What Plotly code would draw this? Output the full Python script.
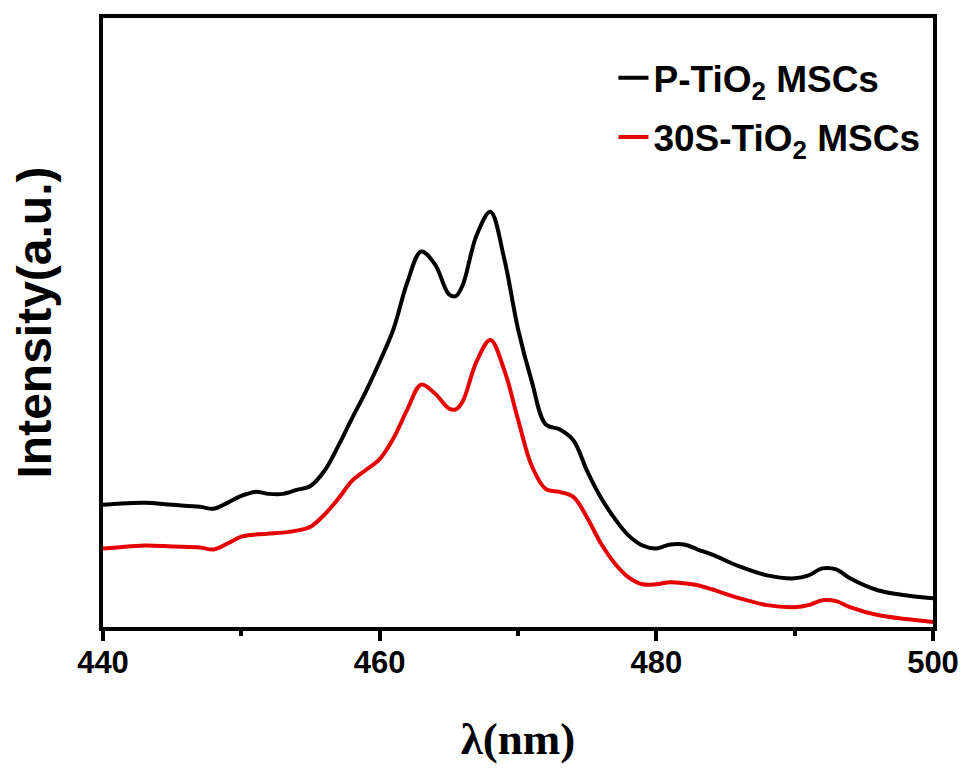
import plotly.graph_objects as go

wavelength = [440, 441, 443, 445, 447, 448, 449, 450, 451, 452, 453, 454, 455, 456, 457, 458, 459, 460,
              461, 462, 463, 464, 465, 465.5, 466, 467, 468, 469, 470, 471, 472, 473, 474, 475, 476, 477,
              478, 479, 480, 481, 482, 483, 484, 486, 488, 490, 491, 492, 493, 494, 496, 498, 500]

p_tio2 = [123, 124, 125, 123, 121, 119, 125, 132, 136, 134, 134, 138, 142, 157, 182, 210, 237, 267,
          300, 347, 378, 365, 335, 333, 344, 394, 418, 371, 300, 247, 204, 199, 188, 157, 130, 109,
          92, 82, 79, 83, 83, 78, 73, 61, 52, 49, 52, 59, 58, 49, 37, 32, 29]

s30_tio2 = [79, 80, 82, 81, 80, 78, 84, 91, 93, 94, 95, 97, 101, 113, 129, 147, 158, 169,
            190, 219, 244, 235, 220, 219, 227, 267, 289, 259, 209, 162, 139, 136, 131, 110, 84, 64,
            50, 43, 43, 45, 44, 42, 38, 29, 22, 20, 22, 27, 26, 20, 12, 8, 5]

names = ["P-TiO<sub>2</sub> MSCs", "30S-TiO<sub>2</sub> MSCs"]
colors = ["#000000", "#e60000"]

fig = go.Figure()
for i, (vals, name, col) in enumerate(zip([p_tio2, s30_tio2], names, colors)):
    fig.add_trace(go.Scatter(
        x=wavelength, y=vals, mode="lines", name=name, legendgroup=str(i),
        line=dict(color=col, width=4, shape="spline", smoothing=1.0),
    ))

fig.update_layout(
    width=959, height=761,
    margin=dict(l=95, r=34, t=6, b=142),
    plot_bgcolor="white", paper_bgcolor="white",
    showlegend=True,
    legend=dict(
        x=0.615, y=0.952, xanchor="left", yanchor="top",
        bgcolor="rgba(0,0,0,0)", borderwidth=0,
        traceorder="grouped", tracegroupgap=8,
        font=dict(family="Liberation Sans, Arial", size=37, color="black", weight="bold"),
    ),
    xaxis=dict(
        range=[440, 500], tick0=440, dtick=20,
        showline=True, linewidth=4, linecolor="black", mirror=True,
        ticks="outside", ticklen=10, tickwidth=4, tickcolor="black",
        ticklabelstandoff=-5,
        minor=dict(dtick=10, ticks="outside", ticklen=5, tickwidth=4, tickcolor="black"),
        showgrid=False, zeroline=False,
        tickfont=dict(family="Liberation Sans, Arial", size=31, color="black", weight="bold"),
        title=dict(text="λ(nm)", standoff=44,
                   font=dict(family="Liberation Serif, Times New Roman", size=45, color="black", weight="bold")),
    ),
    yaxis=dict(
        range=[0, 613],
        showline=True, linewidth=4, linecolor="black", mirror=True,
        showticklabels=False, ticks="", showgrid=False, zeroline=False,
        title=dict(text="Intensity(a.u.)", standoff=47,
                   font=dict(family="Liberation Sans, Arial", size=48, color="black", weight="bold")),
    ),
)

fig.write_html("out.html")
